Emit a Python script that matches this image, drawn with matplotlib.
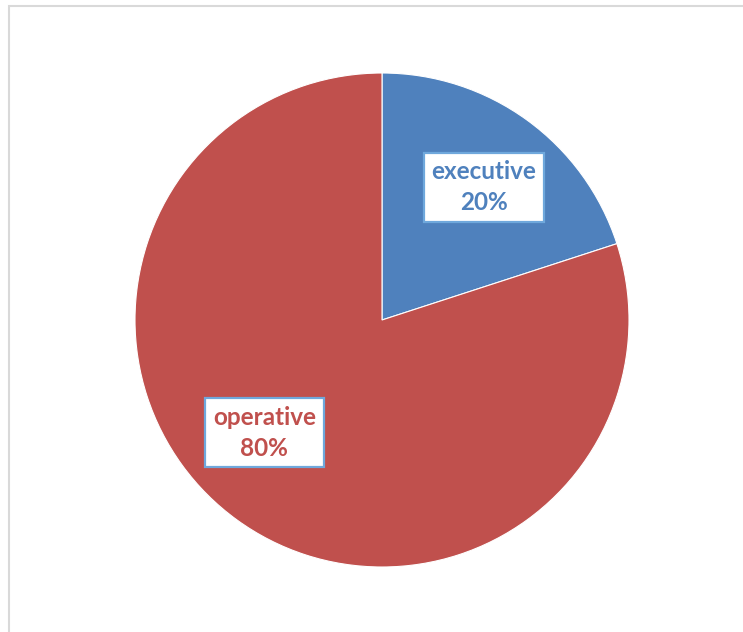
import matplotlib.pyplot as plt
from matplotlib.patches import Rectangle

labels = ['executive', 'operative']
shares = [20, 80]
colors = ['#4F81BD', '#C0504D']

W, H = 743, 632
fig = plt.figure(figsize=(W / 100, H / 100), dpi=100)

# chart frame
fig.patches.append(Rectangle((8.5 / W, -0.1), 1.2, 1 - 5.5 / H + 0.1,
                             transform=fig.transFigure, fill=False,
                             edgecolor='#D9D9D9', linewidth=1.5))

cx, cy, r = 382, H - 320, 247
ax = fig.add_axes([(cx - r) / W, (cy - r) / H, 2 * r / W, 2 * r / H])
wedges, _ = ax.pie(shares, colors=colors, startangle=90, counterclock=False,
                   wedgeprops=dict(edgecolor='white', linewidth=0.8))
ax.set_xlim(-1, 1)
ax.set_ylim(-1, 1)
ax.set_aspect('equal')

label_pos = [(0.413, 0.538), (-0.476, -0.457)]
for lab, val, col, (x, y) in zip(labels, shares, colors, label_pos):
    ax.text(x, y, f'{lab}\n{val}%', ha='center', va='center', color=col,
            fontsize=17.5, fontweight='bold', family='Lato', linespacing=1.4,
            bbox=dict(boxstyle='square,pad=0.32', facecolor='white',
                      edgecolor='#6FA8DC', linewidth=1.6))

fig.savefig('out.png', dpi=100)
